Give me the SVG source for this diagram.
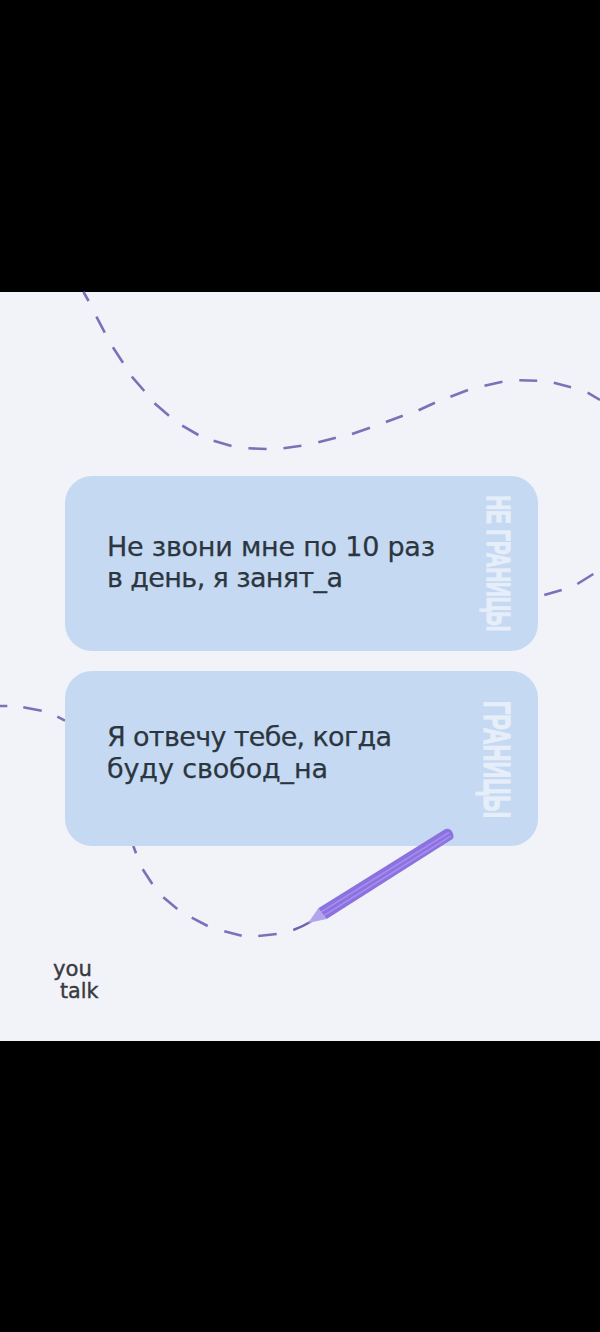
<svg xmlns="http://www.w3.org/2000/svg" width="600" height="1332" viewBox="0 0 600 1332">
<style>
.card{fill:#c5d9f2}
.msg{font-family:"DejaVu Sans","Liberation Sans",sans-serif;font-size:27px;fill:#2c3640;stroke:#2c3640;stroke-width:.25}
.side{font-family:"Liberation Sans",sans-serif;font-weight:700;fill:#e6eefa;stroke:#e6eefa;stroke-width:1.3}
.dash{fill:none;stroke:#7c70b8;stroke-width:2.6;stroke-linecap:butt}
.logo{font-family:"DejaVu Sans",sans-serif;font-size:21px;fill:#3a3a40;stroke:#3a3a40;stroke-width:.4}
</style>
<rect width="600" height="1332" fill="#000"/>
<rect y="292" width="600" height="749" fill="#f1f3f9"/>
<g id="connectors">
<path class="dash" d="M83.5 292L88.6 301M96.4 316.7L104.8 332.7M112.9 347.3L123 362.7M131.8 376.7L144.3 391M154.5 403.3L169 415.7M182.2 425.7L198.4 435M213.6 440.7L231.5 446M248.4 448.3L266.6 449M283.5 448.3L301.4 445.7M318.3 442.3L335.9 437.7M352 434L370 427.7M385.9 422L402.8 415.7M418.6 410.3L434.9 402.7M450.4 396.7L468 390M484.5 385.7L502.4 381.7M519.3 380.3L537.2 380.7M553.8 382.7L571 387.3M587.6 392.7L600 400"/>
<path class="dash" d="M544.3 595L561.7 590M577.3 584L593.3 574"/>
<path class="dash" d="M0 706L7.3 706M23.3 707.3L41.7 710.7M57.3 716.7L65 720.7"/>
<path class="dash" d="M133.3 846L136 853.3M142.7 869.3L152.3 884M163.3 897.3L177.3 909M191.7 917.7L207.7 926M224.3 931.3L241.7 935.7M258.3 936L276.7 934"/>
</g>
<g id="card-1">
<rect class="card" x="65" y="476" width="473" height="175" rx="27"/>
<text class="msg" x="107" y="556" textLength="328" lengthAdjust="spacing">Не звони мне по 10 раз</text>
<text class="msg" x="107" y="587" textLength="236" lengthAdjust="spacing">в день, я занят_а</text>
<text class="side" font-size="33" transform="translate(486.500 495.500) rotate(90)" textLength="136" lengthAdjust="spacingAndGlyphs">НЕ ГРАНИЦЫ</text>
</g>
<g id="card-2">
<rect class="card" x="65" y="671" width="473" height="175" rx="27"/>
<text class="msg" x="107" y="745.500" textLength="285" lengthAdjust="spacing">Я отвечу тебе, когда</text>
<text class="msg" x="107" y="777.500" textLength="221" lengthAdjust="spacing">буду свобод_на</text>
<text class="side" font-size="37" transform="translate(484 701) rotate(90)" textLength="117" lengthAdjust="spacingAndGlyphs">ГРАНИЦЫ</text>
</g>
<g id="pencil">
<path d="M293.300 930Q302 927 311 921.500" fill="none" stroke="#6f62ad" stroke-width="2.4"/>
<path d="M318.300 908.300L308 923L326.700 919Z" fill="#b3a4ee"/>
<path d="M318.300 908.300L445 829.300Q450 827.500 452.500 832.500Q454.500 837 452.500 839L326.700 919Z" fill="#8b72de"/>
<path d="M321 912L449 832.500M324 915.500L451 836" stroke="#a58cf0" stroke-width="1.5" fill="none"/>
</g>
<g id="logo">
<text class="logo" x="53" y="976" textLength="39" lengthAdjust="spacingAndGlyphs">you</text>
<text class="logo" x="60" y="997.500" textLength="38.500" lengthAdjust="spacingAndGlyphs">talk</text>
</g>
</svg>
